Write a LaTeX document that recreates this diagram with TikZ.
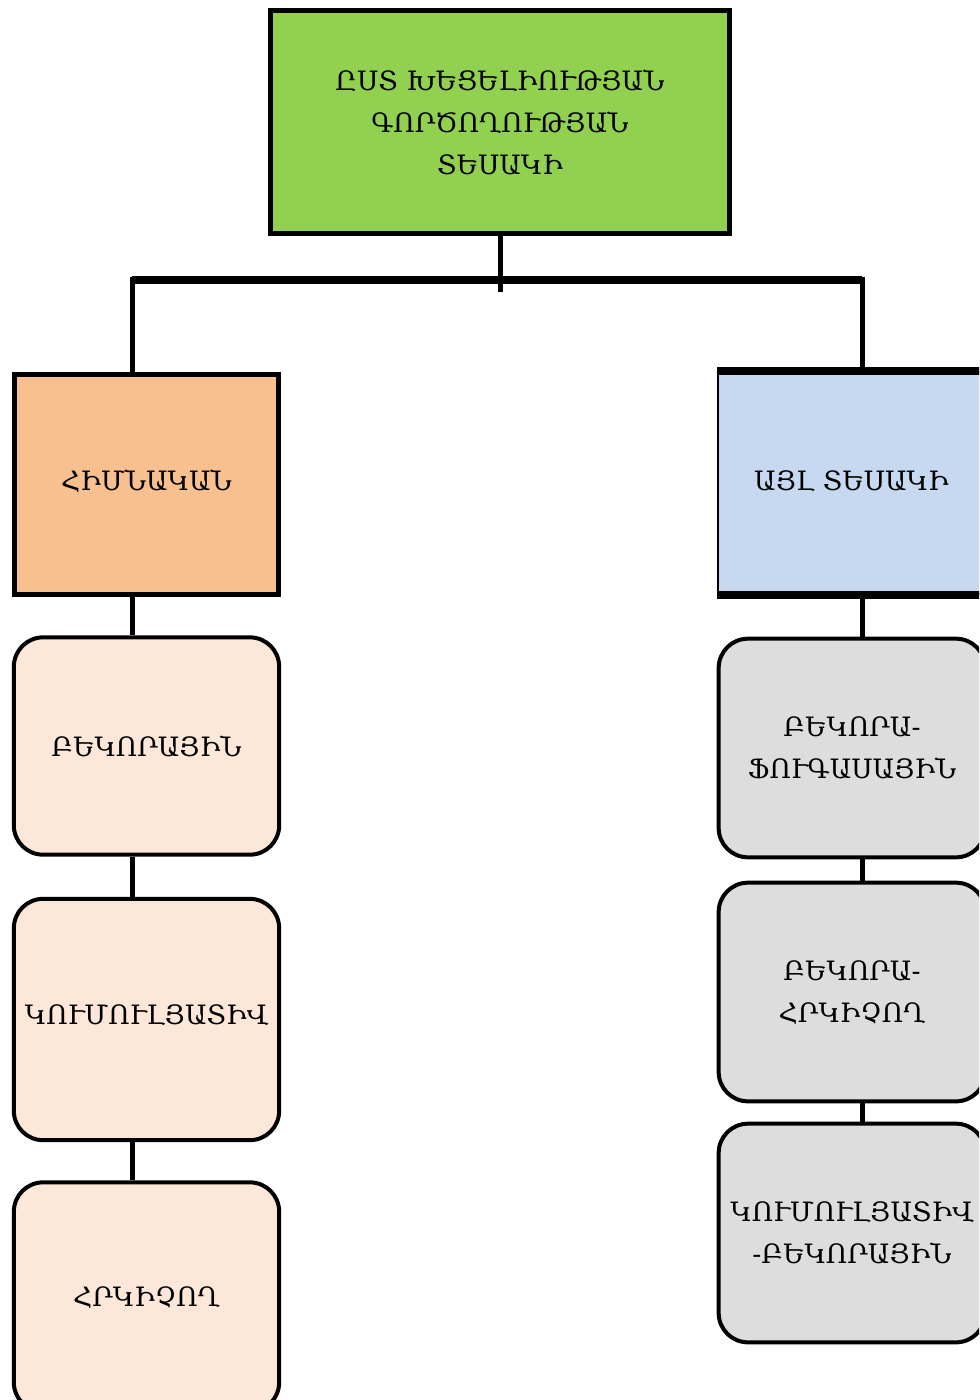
\documentclass[tikz,border=0pt]{standalone}
\usepackage{fontspec}
\newfontfamily\armfont{DejaVu Serif}
\definecolor{grn}{HTML}{92D050}
\definecolor{orn}{HTML}{F8BF8F}
\definecolor{blu}{HTML}{C6D9F1}
\definecolor{pch}{HTML}{FCE7D8}
\definecolor{gry}{HTML}{DDDDDD}
\begin{document}
\begin{tikzpicture}[x=0.75pt,y=-0.75pt]
\tikzstyle{every node}=[font=\armfont\fontsize{20}{31.5}\selectfont,align=center,inner sep=0pt]
\tikzstyle{sq}=[draw,line width=3.75pt,rectangle]
\tikzstyle{rnd}=[draw,line width=3pt,rectangle,rounded corners=22pt]
\useasboundingbox (0,0) rectangle (979,1400);
\clip (0,0) rectangle (979,1400);

\draw (500,122) node (0) [sq,fill=grn,minimum width=344pt,minimum height=167pt] {ԸՍՏ ԽԵՑԵԼԻՈՒԹՅԱՆ\\ԳՈՐԾՈՂՈՒԹՅԱՆ\\ՏԵՍԱԿԻ};
\draw (146.5,484.5) node (1) [sq,fill=orn,minimum width=198pt,minimum height=165pt] {\raisebox{6pt}{ՀԻՄՆԱԿԱՆ}};
\draw (851.5,483) node (2) [draw,line width=1.5pt,fill=blu,minimum width=200pt,minimum height=166pt] {\raisebox{4pt}{ԱՅԼ ՏԵՍԱԿԻ}};
\draw [line width=6pt] (2.north west) -- (2.north east);
\draw [line width=6pt] (2.south west) -- (2.south east);

\draw (146.5,746) node (11) [rnd,fill=pch,minimum width=199pt,minimum height=163pt] {ԲԵԿՈՐԱՅԻՆ};
\draw (146.5,1019.5) node (12) [rnd,fill=pch,minimum width=199pt,minimum height=181pt] {\raisebox{8pt}{ԿՈՒՄՈՒԼՅԱՏԻՎ}};
\draw (146.5,1297) node (13) [rnd,fill=pch,minimum width=199pt,minimum height=172pt] {ՀՐԿԻՉՈՂ};
\draw (852,748) node (21) [rnd,fill=gry,minimum width=200pt,minimum height=164pt] {ԲԵԿՈՐԱ-\\ՖՈՒԳԱՍԱՅԻՆ};
\draw (852,992) node (22) [rnd,fill=gry,minimum width=200pt,minimum height=164pt] {ԲԵԿՈՐԱ-\\ՀՐԿԻՉՈՂ};
\draw (852,1233) node (23) [rnd,fill=gry,minimum width=200pt,minimum height=164pt] {ԿՈՒՄՈՒԼՅԱՏԻՎ\\-ԲԵԿՈՐԱՅԻՆ};

\coordinate (m) at (500,280);
\coordinate (l) at (132,280);
\coordinate (r) at (862,280);
\draw [line width=3.75pt] (0.south) -- ([yshift=-9pt]m);
\draw [line width=6pt] (l) -- (r);
\draw [line width=3.75pt] ([yshift=2pt]l) -- (l |- 1.north);
\draw [line width=3.75pt] ([yshift=2pt]r) -- (r |- 2.north);
\draw [line width=3.75pt] (l |- 1.south) -- (l |- 11.north);
\draw [line width=3.75pt] (l |- 11.south) -- (l |- 12.north);
\draw [line width=3.75pt] (l |- 12.south) -- (l |- 13.north);
\draw [line width=3.75pt] (r |- 2.south) -- (r |- 21.north);
\draw [line width=3.75pt] (r |- 21.south) -- (r |- 22.north);
\draw [line width=3.75pt] (r |- 22.south) -- (r |- 23.north);
\end{tikzpicture}
\end{document}
